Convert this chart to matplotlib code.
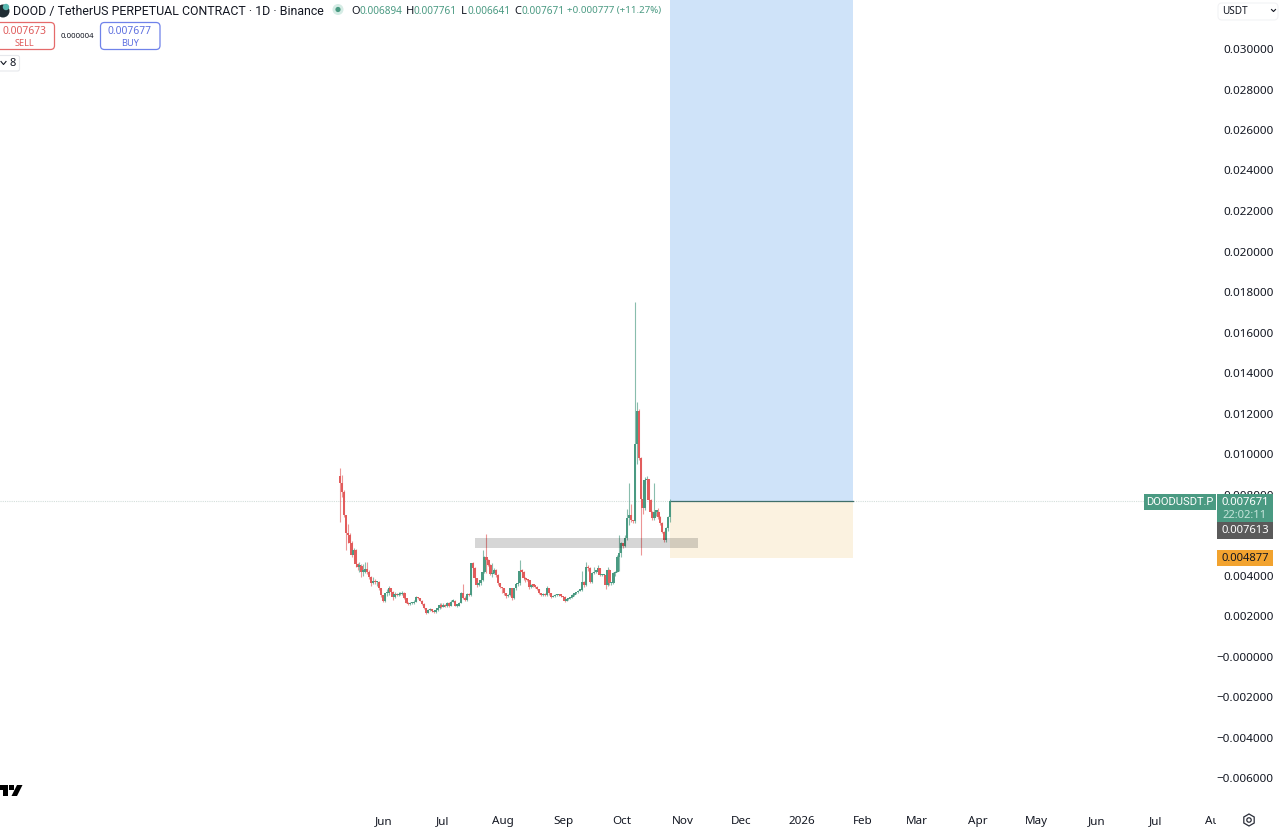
import numpy as np
import pandas as pd
import matplotlib
matplotlib.use("Agg")
import matplotlib.pyplot as plt
import matplotlib.dates as mdates
from matplotlib.patches import Rectangle, FancyBboxPatch, Circle, RegularPolygon, Polygon
from matplotlib.transforms import Affine2D, Bbox

# ---------- data (prices in thousandths of USDT) ----------
first_open = 8.90
close = [8.55,8.14,6.99,6.08,6.00,5.59,5.01,5.26,4.57,4.44,
         4.47,4.19,4.19,4.30,4.19,3.94,3.65,3.74,3.69,3.69,
         3.37,3.04,2.72,3.12,3.12,3.37,3.20,2.95,3.09,3.04,
         3.09,3.09,3.15,2.87,2.66,2.58,2.62,2.62,2.71,2.92,
         2.87,2.76,2.59,2.38,2.16,2.30,2.33,2.26,2.18,2.30,
         2.38,2.54,2.46,2.54,2.49,2.62,2.51,2.71,2.76,2.51,
         2.51,2.66,3.15,2.87,2.79,3.09,3.04,4.60,4.35,3.86,
         3.53,3.61,3.78,4.19,4.93,4.75,4.52,4.07,4.11,4.27,
         4.02,3.61,3.45,3.37,3.12,2.99,3.04,3.37,2.87,3.37,
         3.58,3.61,4.24,4.19,3.86,3.81,3.78,3.45,3.53,3.50,
         3.45,3.33,3.12,3.04,3.09,3.04,3.37,3.12,2.95,2.99,
         3.04,3.04,3.07,2.99,2.95,2.76,2.82,2.87,2.92,3.04,
         3.12,3.17,3.25,3.28,3.69,3.53,4.44,4.35,3.69,4.11,
         4.19,4.19,4.35,4.02,4.02,4.02,3.53,4.27,3.61,3.61,
         4.11,4.19,4.93,5.09,5.59,5.46,5.83,6.82,6.99,6.74,
         6.69,10.50,12.10,9.80,7.80,7.32,8.71,8.75,7.73,7.15,
         6.82,7.15,7.15,6.90,6.58,6.17,5.75,6.33,6.894,7.671]
high = [9.29,8.96,8.20,6.58,6.56,6.10,5.70,5.35,5.30,4.62,
        4.65,4.55,4.55,4.65,4.65,4.25,4.00,3.95,3.85,3.75,
        3.75,3.40,3.05,3.15,3.35,3.50,3.40,3.22,3.20,3.12,
        3.20,3.18,3.22,3.17,2.90,2.68,2.68,2.70,2.80,2.98,
        2.95,2.90,2.78,2.62,2.40,2.35,2.40,2.36,2.30,2.34,
        2.45,2.62,2.66,2.62,2.60,2.68,2.68,2.78,2.85,2.78,
        2.56,2.70,3.20,3.58,3.00,3.12,3.12,4.62,4.65,4.40,
        3.90,3.68,3.85,5.26,4.97,6.05,4.80,4.55,4.60,4.35,
        4.30,4.05,3.65,3.45,3.40,3.15,3.08,3.40,3.40,3.40,
        3.62,3.65,4.76,4.30,4.22,3.92,3.85,3.80,3.58,3.55,
        3.52,3.48,3.35,3.15,3.15,3.12,3.50,3.40,3.15,3.02,
        3.08,3.08,3.10,3.09,3.00,2.97,2.85,2.90,2.95,3.07,
        3.15,3.20,3.28,3.30,4.20,3.72,4.69,4.50,4.40,4.16,
        4.44,4.22,4.52,4.38,4.08,4.06,4.05,4.44,4.30,3.66,
        4.15,4.22,5.00,6.00,5.65,5.62,6.00,7.30,8.55,7.55,
        6.75,17.52,12.58,12.20,9.85,8.40,8.85,8.90,8.78,7.80,
        7.20,8.55,7.20,7.32,6.95,6.62,6.20,6.38,6.95,7.761]
low = [6.66,7.90,6.90,5.26,5.60,5.30,4.90,4.75,4.40,4.25,
       4.15,3.95,4.00,4.10,4.05,3.85,3.50,3.60,3.60,3.50,
       3.30,2.95,2.68,2.70,3.00,3.05,3.10,2.80,2.90,3.00,
       3.00,3.02,3.05,2.82,2.62,2.55,2.56,2.58,2.58,2.68,
       2.82,2.72,2.55,2.35,2.12,2.13,2.26,2.22,2.15,2.14,
       2.26,2.34,2.40,2.42,2.44,2.45,2.46,2.48,2.68,2.48,
       2.46,2.48,2.62,2.82,2.75,2.74,2.98,3.00,4.25,3.80,
       3.45,3.48,3.55,3.75,4.10,4.10,4.45,4.02,3.95,4.05,
       3.95,3.55,3.40,3.15,3.05,2.90,2.92,2.98,2.80,2.82,
       3.30,3.50,3.55,4.05,3.80,3.70,3.72,3.35,3.40,3.44,
       3.38,3.28,3.08,2.98,3.00,2.98,3.00,3.05,2.88,2.92,
       2.95,2.98,3.00,2.94,2.90,2.70,2.72,2.78,2.85,2.88,
       3.00,3.10,3.14,3.22,3.24,3.45,3.50,4.20,3.62,3.65,
       4.05,4.10,4.10,3.96,3.96,3.96,3.35,3.50,3.55,3.55,
       3.58,4.00,4.15,4.20,4.90,5.35,5.40,5.75,6.50,6.65,
       6.60,6.60,9.50,9.70,5.01,7.05,7.25,8.50,7.65,7.05,
       6.75,6.75,6.95,6.80,6.50,6.10,5.65,5.65,6.20,6.641]
first_day = "2025-05-09 12:00"

price_ticks = [30,28,26,24,22,20,18,16,14,12,10,8,6,4,2,0,-2,-4,-6]
price_labels = ["0.030000","0.028000","0.026000","0.024000","0.022000","0.020000",
                "0.018000","0.016000","0.014000","0.012000","0.010000","0.008000",
                "0.006000","0.004000","0.002000","\u22120.000000","\u22120.002000",
                "\u22120.004000","\u22120.006000"]
month_ticks = ["2025-06-01","2025-07-01","2025-08-01","2025-09-01","2025-10-01","2025-11-01",
               "2025-12-01","2026-01-01","2026-02-01","2026-03-01","2026-04-01","2026-05-01",
               "2026-06-01","2026-07-01","2026-08-01"]
month_labels = ["Jun","Jul","Aug","Sep","Oct","Nov","Dec","2026","Feb","Mar","Apr","May","Jun","Jul","Aug"]

entry_price = 7.671
stop_price = 4.877
zone_low, zone_high = 5.36, 5.85
pos_start, pos_end = "2025-10-25 12:00", "2026-01-27"
zone_start, zone_end = "2025-07-17 12:00", "2025-11-09"

# ---------- styles ----------
FONT = "Noto Sans"
INK = "#131722"
GREEN = "#4a9a82"
RED = "#e25c5c"
plt.rcParams["font.family"] = [FONT, "DejaVu Sans"]
W, H = 1280, 830
AX_R, AX_B = 1216, 807
PX_PER_DAY = 1.954
JUN1_PX = 384

fig = plt.figure(figsize=(W/100, H/100), dpi=100, facecolor="white")
ax = fig.add_axes([0, 1-AX_B/H, AX_R/W, AX_B/H], facecolor="white", zorder=1)
for s in ax.spines.values():
    s.set_visible(False)

jun1 = mdates.date2num(pd.Timestamp("2025-06-01"))
ax.set_xlim(jun1 - JUN1_PX/PX_PER_DAY, jun1 + (AX_R-JUN1_PX)/PX_PER_DAY)
ax.set_ylim(2 + (616-AX_B)/20.25, 2 + 616/20.25)

days = mdates.date2num(pd.date_range(first_day, periods=len(close)))
c = np.array(close)
o = np.r_[first_open, c[:-1]]
up = c >= o
colors = np.where(up, GREEN, RED)

d = lambda s: mdates.date2num(pd.Timestamp(s))
top = ax.get_ylim()[1]
ax.add_patch(Rectangle((d(pos_start), entry_price), d(pos_end)-d(pos_start), top-entry_price,
                       fc="#cfe3f9", ec="none", zorder=1))
ax.add_patch(Rectangle((d(pos_start), stop_price), d(pos_end)-d(pos_start), entry_price-stop_price,
                       fc="#fbf2e0", ec="none", zorder=1))
ax.plot([d(pos_start), d(pos_end)], [entry_price, entry_price], color="#3f6f6a", lw=0.9, zorder=2)
ax.axhline(entry_price, color="#d3dedb", lw=0.8, ls=(0, (1, 1)), zorder=1.5)

ax.vlines(days, low, high, colors=colors, lw=0.8, alpha=0.65, zorder=3)
ax.bar(days, np.maximum(np.abs(c-o), 0.06), bottom=np.minimum(o, c), width=1.25,
       color=colors, edgecolor="none", zorder=4)
ax.add_patch(Rectangle((d(zone_start), zone_low), d(zone_end)-d(zone_start), zone_high-zone_low,
                       fc="black", alpha=0.16, ec="none", zorder=5))

ax.yaxis.tick_right()
ax.set_yticks(price_ticks, price_labels)
ax.set_xticks(mdates.date2num(pd.to_datetime(month_ticks)), month_labels)
ax.tick_params(axis="both", length=0, labelcolor=INK)
ax.tick_params(axis="y", pad=41.5, labelsize=8.4)
ax.tick_params(axis="x", pad=6.5, labelsize=8.4)
for lab in ax.get_yticklabels():
    lab.set_ha("right")
xlabels = ax.get_xticklabels()
xlabels[7].set_fontweight("bold")
xlabels[-1].set_clip_on(True)
xlabels[-1].set_clip_box(Bbox([[0, 0], [AX_R, H]]))

# ---------- chart-furniture text and shapes, in pixel coordinates ----------
T = Affine2D().scale(1/W, -1/H).translate(0, 1) + fig.transFigure

def txt(x, y, s, size=8.6, color=INK, ha="left", weight="normal", z=10, family=None):
    fig.text(x, y + 1, s, transform=T, fontsize=size, color=color, ha=ha, va="center",
             fontweight=weight, zorder=z, family=family or [FONT, "DejaVu Sans"])

def box(x0, y0, x1, y1, fc, ec="none", lw=0.0, r=0.0, z=8):
    if r:
        p = FancyBboxPatch((x0+r, y0+r), x1-x0-2*r, y1-y0-2*r, boxstyle=f"round,pad={r},rounding_size={r}",
                           fc=fc, ec=ec, lw=lw, transform=T, zorder=z)
    else:
        p = Rectangle((x0, y0), x1-x0, y1-y0, fc=fc, ec=ec, lw=lw, transform=T, zorder=z)
    fig.add_artist(p)

# symbol icon
fig.add_artist(Circle((3, 11), 6.5, fc="#1f2d33", ec="none", transform=T, zorder=8))
fig.add_artist(Circle((6, 7), 3.2, fc="#58b8b0", ec="none", transform=T, zorder=9))
txt(13, 10, "DOOD / TetherUS PERPETUAL CONTRACT \u00b7 1D \u00b7 Binance", size=8.95, family="Roboto")
fig.add_artist(Circle((338, 9.5), 5.5, fc="#d5ece5", ec="none", transform=T, zorder=8))
fig.add_artist(Circle((338, 9.5), 2.6, fc=GREEN, ec="none", transform=T, zorder=9))

for x, lab, xv, val in [(351, "O", 359, "0.006894"), (406, "H", 414, "0.007761"),
                        (461, "L", 467, "0.006641"), (514, "C", 521, "0.007671")]:
    txt(x, 10, lab, size=8.0)
    txt(xv, 10, val, size=7.2, color=GREEN)
txt(567, 10, "+0.000777 (+11.27%)", size=7.0, color=GREEN)

box(-6, 22.5, 54.5, 49.5, "white", ec="#e56a6a", lw=0.9, r=4)
txt(24.5, 30.5, "0.007673", size=7.4, color="#df5a5a", ha="center", weight="bold")
txt(24.5, 42, "SELL", size=6.6, color="#df5a5a", ha="center")
txt(61, 35, "0.000004", size=5.6)
box(100.5, 22.5, 160, 49.5, "white", ec="#6f82ea", lw=0.9, r=4)
txt(130, 30.5, "0.007677", size=7.4, color="#5d6fe0", ha="center", weight="bold")
txt(130, 42, "BUY", size=6.6, color="#5d6fe0", ha="center")
box(-6, 55.5, 19.5, 71, "white", ec="#e6e8ec", lw=0.8, r=2)
fig.add_artist(plt.Line2D([1, 3.5, 6], [61.5, 64.5, 61.5], color=INK, lw=0.8, transform=T, zorder=10))
txt(10, 63, "8", size=8.0)

# currency selector
box(1218, 3, 1278, 20, "white", ec="#f2f3f5", lw=0.8, r=4)
txt(1222, 10, "USDT", size=7.2)
fig.add_artist(plt.Line2D([1271.5, 1273.5, 1275.5], [9.5, 11.5, 9.5], color=INK, lw=0.8, transform=T, zorder=10))

# price tags on the scale
box(1144, 494, 1215.5, 510, GREEN)
txt(1179.5, 501, "DOODUSDT.P", size=8.0, color="white", ha="center", family="Roboto")
box(1216.5, 494, 1273, 522, GREEN)
txt(1245, 501.5, "0.007671", size=8.1, color="white", ha="center")
txt(1245, 514, "22:02:11", size=8.1, color="#c5e4da", ha="center")
box(1216.5, 522, 1273, 539, "#5a5a5a")
txt(1245, 529.5, "0.007613", size=8.1, color="white", ha="center")
box(1216.5, 550, 1273, 566, "#f2a32f")
txt(1245, 557, "0.004877", size=8.1, color=INK, ha="center")

# logo fragment (bottom left)
for pts in [[(0, 785), (8, 785), (8, 796), (3, 796), (3, 790), (0, 790)],
            [(9, 785), (14, 785), (14, 790), (9, 790)],
            [(17, 785), (22.5, 785), (17, 796), (11.5, 796)]]:
    fig.add_artist(Polygon(pts, closed=True, fc="black", ec="none", transform=T, zorder=8))

# settings icon
fig.add_artist(RegularPolygon((1249, 820), 6, radius=6, fc="none", ec="#2a2e39", lw=0.9, transform=T, zorder=8))
fig.add_artist(Circle((1249, 820), 2.2, fc="none", ec="#2a2e39", lw=0.9, transform=T, zorder=8))

fig.savefig("out.png", dpi=100, facecolor="white")
